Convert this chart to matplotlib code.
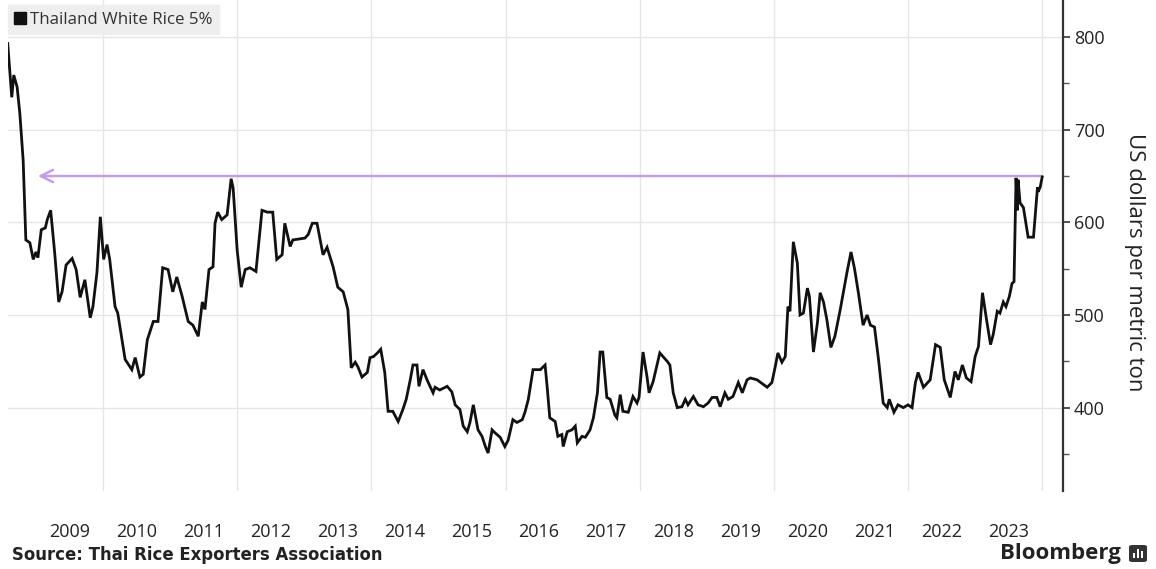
import matplotlib
matplotlib.use("Agg")
import matplotlib.pyplot as plt
from matplotlib.lines import Line2D
from matplotlib.patches import FancyBboxPatch, Rectangle
from matplotlib.ticker import FixedLocator, MultipleLocator

# ---------------- data ----------------
series_name = "Thailand White Rice 5%"

dates = [
    2008.58, 2008.64, 2008.67, 2008.72, 2008.76, 2008.81, 2008.85, 2008.91, 2008.96, 2009.00,
    2009.03, 2009.08, 2009.14, 2009.17, 2009.22, 2009.28, 2009.34, 2009.39, 2009.45, 2009.54,
    2009.60, 2009.66, 2009.73, 2009.81, 2009.85, 2009.91, 2009.96, 2010.01, 2010.06, 2010.10,
    2010.18, 2010.22, 2010.33, 2010.43, 2010.48, 2010.55, 2010.60, 2010.66, 2010.75, 2010.82,
    2010.89, 2010.97, 2011.04, 2011.10, 2011.18, 2011.27, 2011.34, 2011.42, 2011.48, 2011.52,
    2011.58, 2011.64, 2011.67, 2011.71, 2011.77, 2011.85, 2011.91, 2011.94, 2012.00, 2012.06,
    2012.12, 2012.19, 2012.28, 2012.37, 2012.45, 2012.53, 2012.59, 2012.67, 2012.71, 2012.79,
    2012.83, 2013.01, 2013.06, 2013.12, 2013.19, 2013.28, 2013.34, 2013.43, 2013.50, 2013.58,
    2013.65, 2013.70, 2013.76, 2013.80, 2013.86, 2013.94, 2013.98, 2014.03, 2014.09, 2014.14,
    2014.20, 2014.25, 2014.32, 2014.40, 2014.47, 2014.52, 2014.58, 2014.62, 2014.68, 2014.71,
    2014.77, 2014.83, 2014.92, 2014.95, 2015.02, 2015.13, 2015.20, 2015.25, 2015.32, 2015.37,
    2015.43, 2015.47, 2015.52, 2015.59, 2015.65, 2015.70, 2015.74, 2015.80, 2015.84, 2015.92,
    2015.99, 2016.04, 2016.11, 2016.17, 2016.25, 2016.29, 2016.34, 2016.41, 2016.52, 2016.59,
    2016.62, 2016.66, 2016.74, 2016.78, 2016.84, 2016.86, 2016.92, 2016.99, 2017.04, 2017.07,
    2017.14, 2017.19, 2017.26, 2017.31, 2017.37, 2017.41, 2017.45, 2017.51, 2017.56, 2017.63,
    2017.66, 2017.71, 2017.75, 2017.83, 2017.90, 2017.96, 2017.99, 2018.05, 2018.11, 2018.14,
    2018.20, 2018.30, 2018.41, 2018.45, 2018.50, 2018.56, 2018.63, 2018.68, 2018.72, 2018.80,
    2018.87, 2018.95, 2019.02, 2019.08, 2019.15, 2019.20, 2019.27, 2019.32, 2019.39, 2019.47,
    2019.53, 2019.60, 2019.65, 2019.75, 2019.90, 2019.97, 2020.02, 2020.06, 2020.12, 2020.17,
    2020.21, 2020.24, 2020.29, 2020.35, 2020.39, 2020.44, 2020.50, 2020.53, 2020.59, 2020.65,
    2020.69, 2020.74, 2020.79, 2020.85, 2020.91, 2020.99, 2021.09, 2021.15, 2021.20, 2021.26,
    2021.33, 2021.39, 2021.44, 2021.50, 2021.56, 2021.63, 2021.69, 2021.72, 2021.79, 2021.85,
    2021.93, 2022.00, 2022.06, 2022.11, 2022.15, 2022.23, 2022.33, 2022.41, 2022.48, 2022.54,
    2022.63, 2022.70, 2022.75, 2022.81, 2022.87, 2022.94, 2023.00, 2023.05, 2023.11, 2023.17,
    2023.23, 2023.27, 2023.33, 2023.37, 2023.42, 2023.46, 2023.51, 2023.55, 2023.58, 2023.61,
    2023.63, 2023.64, 2023.67, 2023.72, 2023.79, 2023.87, 2023.93, 2023.94, 2023.97, 2024.00,
]

price_usd = [
    793, 735, 759, 746, 718, 667, 581, 578, 560, 568,
    562, 592, 594, 603, 613, 567, 514, 525, 554, 561,
    549, 519, 538, 497, 509, 546, 606, 560, 576, 560,
    509, 502, 452, 441, 454, 433, 436, 473, 493, 493,
    551, 549, 525, 541, 520, 493, 489, 477, 514, 506,
    549, 552, 599, 611, 603, 608, 647, 637, 570, 530,
    549, 551, 547, 613, 611, 611, 560, 565, 599, 574,
    581, 583, 587, 599, 599, 565, 573, 552, 530, 525,
    506, 443, 449, 444, 433, 438, 454, 455, 459, 463,
    438, 396, 396, 385, 398, 409, 430, 446, 446, 423,
    441, 430, 416, 422, 419, 423, 417, 403, 398, 380,
    374, 384, 403, 376, 369, 358, 351, 376, 373, 368,
    358, 365, 387, 384, 387, 395, 409, 441, 441, 446,
    423, 389, 385, 369, 371, 358, 374, 376, 380, 362,
    369, 368, 376, 389, 416, 460, 460, 411, 409, 392,
    389, 414, 396, 395, 412, 405, 411, 460, 433, 416,
    428, 459, 450, 446, 416, 400, 401, 409, 403, 412,
    403, 401, 405, 411, 411, 401, 416, 409, 412, 427,
    416, 430, 432, 430, 422, 427, 444, 459, 449, 455,
    509, 504, 579, 556, 500, 502, 529, 520, 460, 492,
    524, 514, 495, 465, 477, 506, 546, 568, 551, 524,
    489, 500, 489, 487, 452, 405, 400, 409, 395, 403,
    400, 403, 400, 427, 438, 422, 430, 468, 465, 430,
    411, 439, 430, 446, 432, 428, 455, 466, 524, 495,
    468, 479, 504, 502, 514, 509, 520, 534, 536, 648,
    613, 646, 621, 616, 584, 584, 638, 633, 638, 649,
]

year_labels = ["2009", "2010", "2011", "2012", "2013", "2014", "2015", "2016",
               "2017", "2018", "2019", "2020", "2021", "2022", "2023"]
y_tick_values = [400, 500, 600, 700, 800]

# reference arrow: latest level carried back to 2008
ref_level = 650
ref_from = 2024.0
ref_to = 2009.03

source_text = "Source: Thai Rice Exporters Association"
brand_text = "Bloomberg"
y_axis_title = "US dollars per metric ton"

# ---------------- style ----------------
FONT = ["Open Sans", "DejaVu Sans"]
plt.rcParams["font.family"] = FONT
TEXT = "#222222"
GRID = "#e6e6e6"

W, H = 1156, 569
fig = plt.figure(figsize=(W / 100, H / 100), dpi=100)
fig.patch.set_facecolor("white")
ax = fig.add_axes([8 / W, 1 - 491 / H, (1063 - 8) / W, 491 / H])
ax.set_facecolor("white")

ax.set_xlim(2008.584, 2024.31)
ax.set_ylim(310, 840)

# grid
ax.yaxis.set_major_locator(FixedLocator(y_tick_values))
ax.yaxis.set_minor_locator(MultipleLocator(50))
ax.set_xticks([int(l) + 0.5 for l in year_labels])
ax.set_xticklabels(year_labels)
ax.xaxis.set_minor_locator(FixedLocator(list(range(2010, 2025, 2))))
ax.grid(axis="y", which="major", color=GRID, lw=1.0)
ax.grid(axis="x", which="minor", color=GRID, lw=1.0)
ax.set_axisbelow(True)

for side in ["left", "top", "bottom"]:
    ax.spines[side].set_visible(False)
ax.spines["right"].set_color("#333333")
ax.spines["right"].set_linewidth(1.6)

ax.yaxis.tick_right()
ax.tick_params(axis="y", which="major", length=5, width=1.2, colors="#333333",
               labelsize=13, labelcolor=TEXT, pad=3)
ax.tick_params(axis="y", which="minor", length=4, width=1.0, colors="#555555")
ax.tick_params(axis="x", which="both", length=0, labelsize=13, labelcolor=TEXT, pad=23)

# data line
ax.plot(dates, price_usd, color="#111111", lw=2.0, solid_joinstyle="miter", zorder=3)

# reference arrow
ax.annotate("", xy=(ref_to, ref_level), xytext=(ref_from, ref_level),
            arrowprops=dict(arrowstyle="->", color="#c79ce6", lw=1.8,
                            mutation_scale=22, shrinkA=0, shrinkB=0),
            zorder=2)

# legend
handle = Line2D([], [], marker="s", color="#111111", linestyle="none", markersize=8)
leg = ax.legend([handle], [series_name], loc="upper left", bbox_to_anchor=(0.0, 0.99),
                frameon=True, fancybox=False, facecolor="#eeeeee", edgecolor="#eeeeee",
                handlelength=0.6, handletextpad=0.3, borderpad=0.4, borderaxespad=0.0,
                prop={"family": FONT, "size": 12.2})
leg.get_frame().set_alpha(1.0)
for t in leg.get_texts():
    t.set_color("#333333")

# axis title
fig.text(1135 / W, 1 - 262 / H, y_axis_title, rotation=270, ha="center", va="center",
         fontsize=16, color=TEXT)

# footer
fig.text(12 / W, 1 - 555 / H, source_text, ha="left", va="center", fontsize=11.9,
         fontweight="bold", color=TEXT, family=["DejaVu Sans"])
fig.text(1121 / W, 1 - 553 / H, brand_text, ha="right", va="center", fontsize=16,
         fontweight="bold", color=TEXT)

# Bloomberg icon
ix, iy, iw, ih = 1129 / W, 1 - 562 / H, 18 / W, 17 / H
fig.patches.append(FancyBboxPatch((ix, iy), iw, ih, boxstyle="round,pad=0.0,rounding_size=0.003",
                                  transform=fig.transFigure, facecolor="#333333",
                                  edgecolor="none"))
for k, hgt in enumerate([5, 9, 7]):
    fig.patches.append(Rectangle(((1132.5 + k * 4) / W, 1 - 558 / H), 2.5 / W, hgt / H,
                                 transform=fig.transFigure, facecolor="white",
                                 edgecolor="none"))

fig.savefig("out.png", dpi=100, facecolor="white")
